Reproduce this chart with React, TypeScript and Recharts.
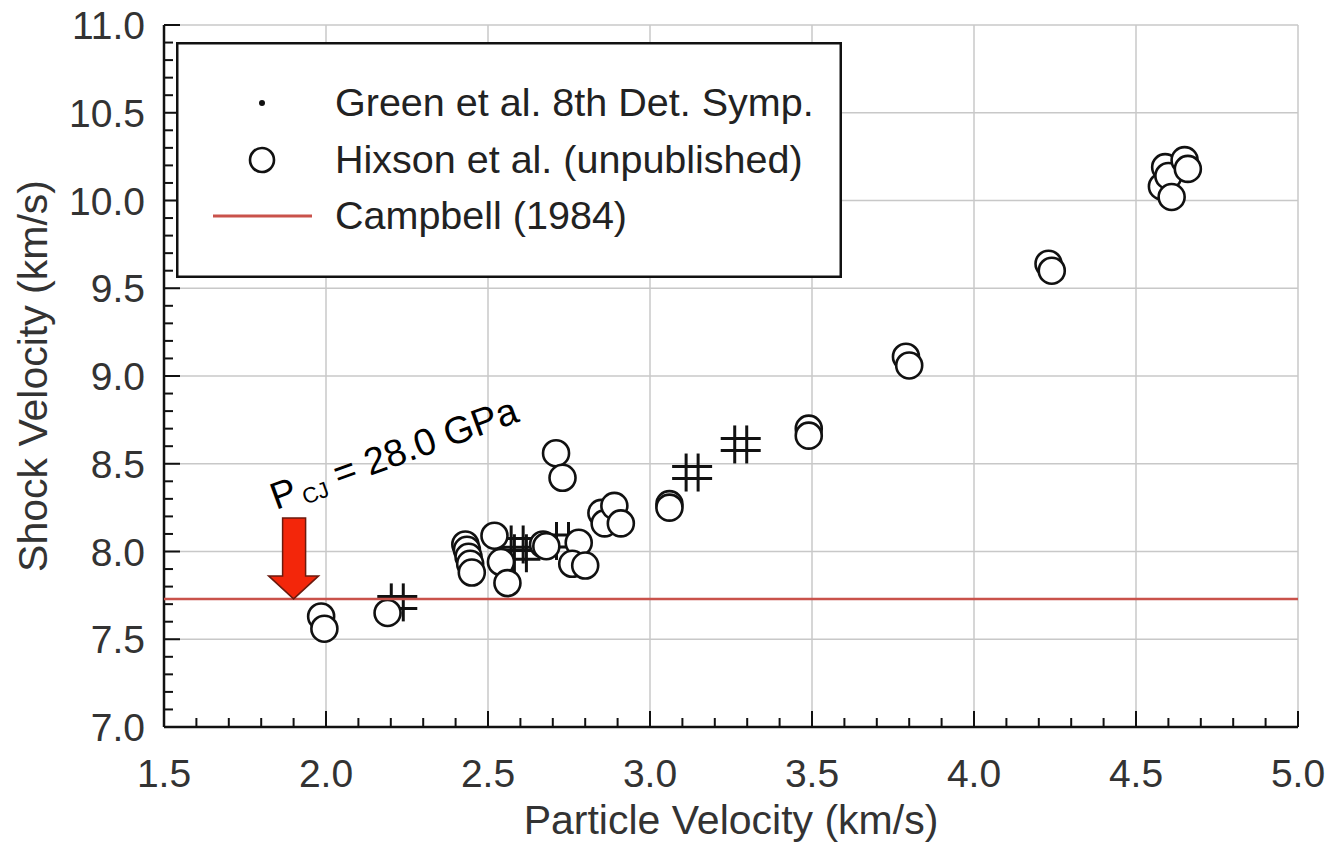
import React from 'react';
import { ScatterChart, Scatter, XAxis, YAxis, CartesianGrid, Legend, ReferenceDot } from 'recharts';

const W = 1328;
const H = 842;
const FONT = '"Liberation Sans", Arial, sans-serif';

// Tick labels
const xMajorTicks = [1.5, 2.0, 2.5, 3.0, 3.5, 4.0, 4.5, 5.0];
const yMajorTicks = [7.0, 7.5, 8.0, 8.5, 9.0, 9.5, 10.0, 10.5, 11.0];
const xAllTicks = Array.from({ length: 36 }, (_, i) => Math.round((1.5 + i * 0.1) * 10) / 10);
const yAllTicks = Array.from({ length: 41 }, (_, i) => Math.round((7.0 + i * 0.1) * 10) / 10);

// Series names (legend order)
const seriesNames = ['Green et al. 8th Det. Symp.', 'Hixson et al. (unpublished)', 'Campbell (1984)'];

// Green et al. 8th Det. Symp.
const greenParticle = [2.22, 2.59, 2.6, 2.73, 3.13, 3.28];
const greenShock = [7.71, 8.04, 7.99, 8.06, 8.45, 8.61];

// Hixson et al. (unpublished)
const hixsonParticle = [
  1.985, 1.995, 2.19, 2.43, 2.435, 2.44, 2.445, 2.45, 2.52, 2.54, 2.56, 2.67, 2.68, 2.71, 2.73,
  2.78, 2.76, 2.8, 2.85, 2.86, 2.89, 2.91, 3.06, 3.06, 3.49, 3.49, 3.79, 3.8, 4.23, 4.24, 4.59,
  4.58, 4.6, 4.61, 4.65, 4.66,
];
const hixsonShock = [
  7.63, 7.56, 7.65, 8.04, 8.01, 7.97, 7.93, 7.88, 8.09, 7.94, 7.82, 8.04, 8.03, 8.56, 8.42, 8.05,
  7.93, 7.92, 8.22, 8.16, 8.26, 8.16, 8.27, 8.25, 8.7, 8.66, 9.11, 9.06, 9.64, 9.6, 10.19, 10.08,
  10.14, 10.02, 10.23, 10.18,
];

// Campbell (1984)
const campbellParticle = [1.5, 5.0];
const campbellShock = [7.73, 7.73];

const greenData = greenParticle.map((u, i) => ({ u, us: greenShock[i] }));
const hixsonData = hixsonParticle.map((u, i) => ({ u, us: hixsonShock[i] }));
const campbellData = campbellParticle.map((u, i) => ({ u, us: campbellShock[i] }));

const RED_LINE = '#c9524b';
const isMajor = (v: number) => Math.abs(v * 2 - Math.round(v * 2)) < 1e-6;
const MAJ = 16;
const MIN = 9;
const TICK_COLOR = '#111';

const BottomTick = (p: any) => {
  const v = p.payload.value;
  const major = isMajor(v);
  return (
    <g>
      <line x1={p.x} y1={p.y} x2={p.x} y2={p.y - (major ? MAJ : MIN)} stroke={TICK_COLOR} strokeWidth={2} />
      {major && (
        <text x={p.x} y={p.y + 60} textAnchor="middle" fontSize={39} fontFamily={FONT} fill="#333">
          {v.toFixed(1)}
        </text>
      )}
    </g>
  );
};
const TopTick = (p: any) => {
  const major = isMajor(p.payload.value);
  return <line x1={p.x} y1={p.y} x2={p.x} y2={p.y + (major ? MAJ : MIN)} stroke={TICK_COLOR} strokeWidth={2} />;
};
const LeftTick = (p: any) => {
  const v = p.payload.value;
  const major = isMajor(v);
  return (
    <g>
      <line x1={p.x} y1={p.y} x2={p.x + (major ? MAJ : MIN)} y2={p.y} stroke={TICK_COLOR} strokeWidth={2} />
      {major && (
        <text x={p.x - 19} y={p.y + 14} textAnchor="end" fontSize={39} fontFamily={FONT} fill="#333">
          {v.toFixed(1)}
        </text>
      )}
    </g>
  );
};
const RightTick = (p: any) => {
  const major = isMajor(p.payload.value);
  return <line x1={p.x} y1={p.y} x2={p.x - (major ? MAJ : MIN)} y2={p.y} stroke={TICK_COLOR} strokeWidth={2} />;
};

const XTitle = () => (
  <text x={731} y={834} textAnchor="middle" fontSize={41} fontFamily={FONT} fill="#333">
    Particle Velocity (km/s)
  </text>
);
const YTitle = () => (
  <text x={47} y={376} transform="rotate(-90 47 376)" textAnchor="middle" fontSize={41} fontFamily={FONT} fill="#333">
    Shock Velocity (km/s)
  </text>
);

const HashShape = (p: any) => {
  const { cx, cy } = p;
  if (cx == null || cy == null) return null;
  const h = 19;
  const o = 6;
  return (
    <g stroke="#111" strokeWidth={3}>
      <line x1={cx - o} y1={cy - h} x2={cx - o} y2={cy + h} />
      <line x1={cx + o} y1={cy - h} x2={cx + o} y2={cy + h} />
      <line x1={cx - 20} y1={cy - o} x2={cx + 20} y2={cy - o} />
      <line x1={cx - 20} y1={cy + o} x2={cx + 20} y2={cy + o} />
    </g>
  );
};
const CircleShape = (p: any) => {
  const { cx, cy } = p;
  if (cx == null || cy == null) return null;
  return <circle cx={cx} cy={cy} r={13} fill="#fff" stroke="#111" strokeWidth={2.6} />;
};
const NoShape = () => null;

const LEG_W = 666;
const LEG_H = 236;
const LegendBox = (props: any) => {
  const payload = (props.payload || []).slice();
  payload.sort((a: any, b: any) => seriesNames.indexOf(a.value) - seriesNames.indexOf(b.value));
  const rows = [61, 118, 174];
  return (
    <svg width={LEG_W} height={LEG_H} style={{ display: 'block' }}>
      <rect x={1.25} y={1.25} width={LEG_W - 2.5} height={LEG_H - 2.5} fill="#fff" stroke="#111" strokeWidth={2.5} />
      {payload.map((e: any, i: number) => {
        const y = rows[i] ?? 61 + i * 57;
        let sym: any = null;
        if (e.value === seriesNames[0]) sym = <circle cx={86} cy={y} r={3} fill="#111" />;
        else if (e.value === seriesNames[1])
          sym = <circle cx={86} cy={y} r={12} fill="#fff" stroke="#111" strokeWidth={2.6} />;
        else sym = <line x1={37} y1={y} x2={136} y2={y} stroke={RED_LINE} strokeWidth={3} />;
        return (
          <g key={i}>
            {sym}
            <text x={159} y={y + 13} fontSize={39.5} fontFamily={FONT} fill="#222">
              {e.value}
            </text>
          </g>
        );
      })}
    </svg>
  );
};

const ArrowShape = (p: any) => {
  const { cx, cy } = p;
  if (cx == null || cy == null) return null;
  const pts = [
    [0, 0],
    [-25, -23],
    [-11, -23],
    [-11, -81],
    [12, -81],
    [12, -23],
    [25, -23],
  ]
    .map(([dx, dy]) => `${cx + dx},${cy + dy}`)
    .join(' ');
  return <polygon points={pts} fill="#f3260a" stroke="#6b1a0e" strokeWidth={1.5} />;
};

const AnnotationShape = (p: any) => {
  const { cx, cy } = p;
  if (cx == null || cy == null) return null;
  return (
    <text x={cx} y={cy} transform={`rotate(-20 ${cx} ${cy})`} fontSize={38} fontFamily={FONT} fill="#000">
      P
      <tspan fontSize={22} dx={4} dy={5}>
        CJ
      </tspan>
      <tspan fontSize={38} dy={-5}>
        {' = 28.0 GPa'}
      </tspan>
    </text>
  );
};

export default function App() {
  return (
    <div style={{ position: 'absolute', left: 0, top: 0, width: W, height: H, background: '#fff' }}>
      <ScatterChart width={W} height={H} margin={{ top: 25, right: 30, bottom: 0, left: 0 }}>
        <CartesianGrid
          stroke="#c8c8c8"
          strokeWidth={1.5}
          verticalValues={xMajorTicks}
          horizontalValues={yMajorTicks}
        />
        <XAxis
          type="number"
          dataKey="u"
          domain={[1.5, 5.0]}
          ticks={xAllTicks}
          interval={0}
          tick={<BottomTick />}
          tickLine={false}
          tickSize={0}
          tickMargin={0}
          height={115}
          axisLine={{ stroke: '#111', strokeWidth: 2.5 }}
          allowDataOverflow
          label={<XTitle />}
        />
        <XAxis
          xAxisId="top"
          orientation="top"
          type="number"
          dataKey="u"
          domain={[1.5, 5.0]}
          ticks={xAllTicks}
          interval={0}
          tick={<TopTick />}
          tickLine={false}
          tickSize={0}
          tickMargin={0}
          height={0}
          axisLine={{ stroke: '#111', strokeWidth: 2.5 }}
          allowDataOverflow
        />
        <YAxis
          type="number"
          dataKey="us"
          domain={[7, 11]}
          ticks={yAllTicks}
          interval={0}
          tick={<LeftTick />}
          tickLine={false}
          tickSize={0}
          tickMargin={0}
          width={164}
          axisLine={{ stroke: '#111', strokeWidth: 2.5 }}
          allowDataOverflow
          label={<YTitle />}
        />
        <YAxis
          yAxisId="right"
          orientation="right"
          type="number"
          dataKey="us"
          domain={[7, 11]}
          ticks={yAllTicks}
          interval={0}
          tick={<RightTick />}
          tickLine={false}
          tickSize={0}
          tickMargin={0}
          width={0}
          axisLine={{ stroke: '#111', strokeWidth: 2.5 }}
          allowDataOverflow
        />
        <Legend
          layout="vertical"
          align="center"
          verticalAlign="middle"
          content={<LegendBox />}
          wrapperStyle={{ left: 176, top: 42, width: LEG_W, height: LEG_H }}
        />
        <Scatter
          name={seriesNames[0]}
          data={greenData}
          shape={<HashShape />}
          fill="#111"
          isAnimationActive={false}
        />
        <Scatter
          name={seriesNames[1]}
          data={hixsonData}
          shape={<CircleShape />}
          fill="#fff"
          stroke="#111"
          isAnimationActive={false}
        />
        <Scatter
          name={seriesNames[2]}
          data={campbellData}
          shape={<NoShape />}
          line={{ stroke: RED_LINE, strokeWidth: 2.5 }}
          stroke={RED_LINE}
          fill={RED_LINE}
          legendType="line"
          isAnimationActive={false}
        />
        <ReferenceDot x={1.9} y={7.73} r={0} shape={<ArrowShape />} ifOverflow="visible" />
        <ReferenceDot x={1.846} y={8.236} r={0} shape={<AnnotationShape />} ifOverflow="visible" />
      </ScatterChart>
    </div>
  );
}
